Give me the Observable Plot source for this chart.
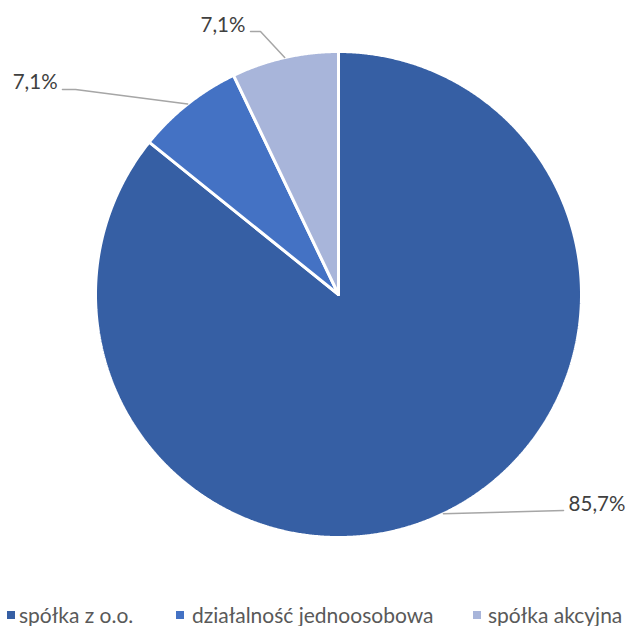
<!DOCTYPE html>
<html><head><meta charset="utf-8">
<script src="https://cdn.jsdelivr.net/npm/d3@7"></script>
<script src="https://cdn.jsdelivr.net/npm/@observablehq/plot@0.6"></script>
<style>
body{margin:0;background:#fff;font-family:Lato,"Open Sans",sans-serif}
#chart{position:relative;width:627px;height:626px;overflow:hidden}
#chart svg{position:absolute;left:0;top:0}
.item{position:absolute;top:601px;height:28px;line-height:28px;font-size:21px;color:#595959;white-space:nowrap}
.sw{position:absolute;top:10px;width:8px;height:8px}
</style></head><body><div id="chart"></div>
<script>
const categories = ["spółka z o.o.", "działalność jednoosobowa", "spółka akcyjna"];
const values = [85.7, 7.1, 7.1];
const labels = ["85,7%", "7,1%", "7,1%"];
const colors = ["#365FA4", "#4472C4", "#A8B5DA"];

// layout of label leaders (unit-circle coordinates)
const leaderLayout = [
  {pts: [[0.926, -0.889]], text: [0.947, -0.862], anchor: "start"},
  {pts: [[-1.082, 0.844], [-1.136, 0.844]], text: [-1.156, 0.872], anchor: "end"},
  {pts: [[-0.321, 1.082], [-0.362, 1.082]], text: [-0.383, 1.107], anchor: "end"}
];

const rows = categories.map((c, i) => ({category: c, value: values[i], label: labels[i]}));
const arcs = d3.pie().sort(null).value(d => d.value)(rows);

const wedgePts = [];
for (const a of arcs) {
  const n = Math.max(4, Math.ceil((a.endAngle - a.startAngle) / 0.005));
  wedgePts.push({category: a.data.category, x: 0, y: 0});
  for (let k = 0; k <= n; k++) {
    const t = a.startAngle + (a.endAngle - a.startAngle) * k / n;
    wedgePts.push({category: a.data.category, x: Math.sin(t), y: Math.cos(t)});
  }
  wedgePts.push({category: a.data.category, x: 0, y: 0});
}

const leaderPts = [];
const labelPts = [];
arcs.forEach((a, i) => {
  const m = (a.startAngle + a.endAngle) / 2;
  const L = leaderLayout[i];
  leaderPts.push({id: i, x: Math.sin(m), y: Math.cos(m)});
  for (const p of L.pts) leaderPts.push({id: i, x: p[0], y: p[1]});
  labelPts.push({label: a.data.label, x: L.text[0], y: L.text[1], anchor: L.anchor});
});

const plot = Plot.plot({
  width: 627, height: 602, margin: 0,
  x: {domain: [-1, 1], range: [95, 581], axis: null},
  y: {domain: [-1, 1], range: [537, 51], axis: null},
  color: {domain: categories, range: colors},
  marks: [
    Plot.line(wedgePts, {x: "x", y: "y", z: "category", fill: "category", stroke: "white", strokeWidth: 3, strokeLinejoin: "miter"}),
    Plot.line(leaderPts, {x: "x", y: "y", z: "id", stroke: "#A6A6A6", strokeWidth: 1.5}),
    Plot.text(labelPts.filter(d => d.anchor === "start"), {x: "x", y: "y", text: "label", textAnchor: "start", fontSize: 20.5, fill: "#404040", fontFamily: "Lato"}),
    Plot.text(labelPts.filter(d => d.anchor === "end"), {x: "x", y: "y", text: "label", textAnchor: "end", fontSize: 20.5, fill: "#404040", fontFamily: "Lato"})
  ]
});
const chart = document.getElementById("chart");
chart.appendChild(plot);

const legendPos = [[7, 19], [176, 192], [473, 488]];
categories.forEach((c, i) => {
  const sw = document.createElement("div");
  sw.className = "item";
  sw.style.left = legendPos[i][0] + "px";
  sw.innerHTML = `<span class="sw" style="left:0;background:${colors[i]}"></span>`;
  chart.appendChild(sw);
  const t = document.createElement("div");
  t.className = "item";
  t.style.left = legendPos[i][1] + "px";
  t.textContent = c;
  chart.appendChild(t);
});
</script></body></html>
